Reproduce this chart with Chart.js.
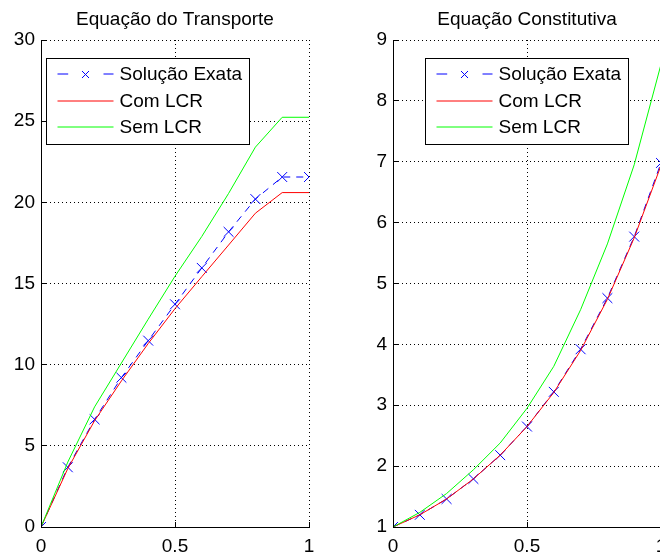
<!DOCTYPE html>
<html>
<head>
<meta charset="utf-8">
<script src="https://cdn.jsdelivr.net/npm/chart.js@4.4.0/dist/chart.umd.min.js"></script>
<style>
html, body { margin: 0; padding: 0; background: #fff; overflow: hidden; width: 660px; height: 555px; }
canvas { position: absolute; top: 0; }
#transporteChart { left: 0; }
#constitutivaChart { left: 360px; }
</style>
</head>
<body>
<canvas id="transporteChart" width="350" height="555"></canvas>
<canvas id="constitutivaChart" width="335" height="555"></canvas>
<script>
// dados
const xValues = [0, 0.1, 0.2, 0.3, 0.4, 0.5, 0.6, 0.7, 0.8, 0.9, 1.0];
const seriesLabels = ['Solução Exata', 'Com LCR', 'Sem LCR'];
const seriesColors = ['#0000ff', '#ff0000', '#00ff00'];

const transporteExata = [0, 3.68, 6.63, 9.2, 11.48, 13.72, 15.96, 18.18, 20.2, 21.56, 21.56];
const transporteCom = [0, 3.6, 6.55, 9.0, 11.3, 13.45, 15.42, 17.37, 19.33, 20.6, 20.6];
const transporteSem = [0, 4.0, 7.4, 10.1, 12.8, 15.45, 17.9, 20.55, 23.4, 25.24, 25.24];

const constitutivaExata = [1, 1.2, 1.46, 1.79, 2.18, 2.65, 3.22, 3.92, 4.76, 5.77, 6.98];
const constitutivaCom = [1, 1.2, 1.46, 1.79, 2.18, 2.65, 3.21, 3.9, 4.74, 5.75, 6.94];
const constitutivaSem = [1, 1.24, 1.55, 1.94, 2.38, 2.95, 3.64, 4.57, 5.65, 6.95, 8.6];

const xTicks = [0, 0.5, 1];
const transporteYTicks = [0, 5, 10, 15, 20, 25, 30];
const constitutivaYTicks = [1, 2, 3, 4, 5, 6, 7, 8, 9];

const FONT = '"Liberation Sans", Arial, Helvetica, sans-serif';
Chart.defaults.font.family = FONT;
Chart.defaults.font.size = 19;
Chart.defaults.color = '#000';

function pts(ys) {
    return xValues.map((x, i) => ({ x: x, y: ys[i] }));
}

function makeDatasets(exata, com, sem) {
    return [{
        label: seriesLabels[0],
        data: pts(exata),
        borderColor: seriesColors[0],
        borderWidth: 1,
        borderDash: [7, 6],
        pointStyle: 'crossRot',
        pointRadius: 7,
        pointBorderColor: seriesColors[0],
        pointBorderWidth: 1,
        order: 3
    }, {
        label: seriesLabels[1],
        data: pts(com),
        borderColor: seriesColors[1],
        borderWidth: 1,
        pointRadius: 0,
        order: 2
    }, {
        label: seriesLabels[2],
        data: pts(sem),
        borderColor: seriesColors[2],
        borderWidth: 1,
        pointRadius: 0,
        order: 1
    }];
}

// titulo, ticks para dentro e legenda no estilo matlab
const matlabDecor = {
    id: 'matlabDecor',
    afterDraw(chart, args, opts) {
        const ctx = chart.ctx;
        const area = chart.chartArea;
        const xs = chart.scales.x, ys = chart.scales.y;
        ctx.save();
        ctx.fillStyle = '#000';
        ctx.font = '19px ' + FONT;
        ctx.textAlign = 'center';
        ctx.textBaseline = 'middle';
        ctx.fillText(opts.title, (area.left + area.right) / 2, 20);

        ctx.strokeStyle = '#000';
        ctx.lineWidth = 1;
        ctx.beginPath();
        ys.ticks.forEach(t => {
            const y = Math.round(ys.getPixelForValue(t.value) - 0.5) + 0.5;
            ctx.moveTo(area.left, y);
            ctx.lineTo(area.left + 5, y);
        });
        xs.ticks.forEach(t => {
            const x = Math.round(xs.getPixelForValue(t.value) - 0.5) + 0.5;
            ctx.moveTo(x, area.bottom);
            ctx.lineTo(x, area.bottom - 5);
        });
        ctx.stroke();

        // legenda
        const bx = Math.round(area.left + opts.legendLeft) + 0.5;
        const by = Math.round(area.top + 18) + 0.5;
        const bw = 203, bh = 86;
        ctx.fillStyle = '#fff';
        ctx.fillRect(bx, by, bw, bh);
        ctx.strokeStyle = '#000';
        ctx.strokeRect(bx, by, bw, bh);
        const rows = [16, 43, 69];
        chart.data.datasets.forEach((ds, i) => {
            const y = by + rows[i];
            const ly = y - 0.5;
            const x0 = bx + 11, x1 = bx + 67;
            ctx.save();
            ctx.strokeStyle = seriesColors[i];
            ctx.lineWidth = 1;
            if (ds.borderDash) ctx.setLineDash([10.7, 35.3]);
            ctx.beginPath();
            ctx.moveTo(x0, ly);
            ctx.lineTo(x1, ly);
            ctx.stroke();
            ctx.setLineDash([]);
            if (ds.pointStyle === 'crossRot') {
                const cx = (x0 + x1) / 2, r = 3.5;
                ctx.beginPath();
                ctx.moveTo(cx - r, y - r); ctx.lineTo(cx + r, y + r);
                ctx.moveTo(cx - r, y + r); ctx.lineTo(cx + r, y - r);
                ctx.stroke();
            }
            ctx.restore();
            ctx.fillStyle = '#000';
            ctx.textAlign = 'left';
            ctx.textBaseline = 'middle';
            ctx.fillText(ds.label, bx + 73, y);
        });
        ctx.restore();
    }
};

function makeChart(id, datasets, yMin, yMax, yTicks, yWidth, rightPad, title, legendLeft) {
    return new Chart(document.getElementById(id).getContext('2d'), {
        type: 'line',
        data: { datasets: datasets },
        options: {
            responsive: false,
            animation: false,
            events: [],
            layout: { padding: { top: 40, right: rightPad, bottom: 0, left: 0 } },
            elements: { line: { tension: 0, fill: false } },
            plugins: {
                legend: { display: false },
                tooltip: { enabled: false },
                matlabDecor: { title: title, legendLeft: legendLeft }
            },
            scales: {
                x: {
                    type: 'linear',
                    min: 0,
                    max: 1,
                    afterBuildTicks: s => { s.ticks = xTicks.map(v => ({ value: v })); },
                    afterFit: s => { s.height = 28; },
                    ticks: { padding: 8, maxRotation: 0, autoSkip: false, color: '#000', callback: v => String(v) },
                    grid: { color: '#000', drawTicks: false },
                    border: { display: true, color: '#000', width: 1, dash: [1, 3] }
                },
                y: {
                    min: yMin,
                    max: yMax,
                    afterBuildTicks: s => { s.ticks = yTicks.map(v => ({ value: v })); },
                    afterFit: s => { s.width = yWidth; },
                    ticks: { padding: 6, color: '#000', callback: v => String(v) },
                    grid: { color: '#000', drawTicks: false },
                    border: { display: true, color: '#000', width: 1, dash: [1, 3] }
                }
            }
        },
        plugins: [matlabDecor]
    });
}

makeChart('transporteChart', makeDatasets(transporteExata, transporteCom, transporteSem),
    0, 30, transporteYTicks, 41, 41, 'Equação do Transporte', 5);
makeChart('constitutivaChart', makeDatasets(constitutivaExata, constitutivaCom, constitutivaSem),
    1, 9, constitutivaYTicks, 33, 34, 'Equação Constitutiva', 32);
</script>
</body>
</html>
